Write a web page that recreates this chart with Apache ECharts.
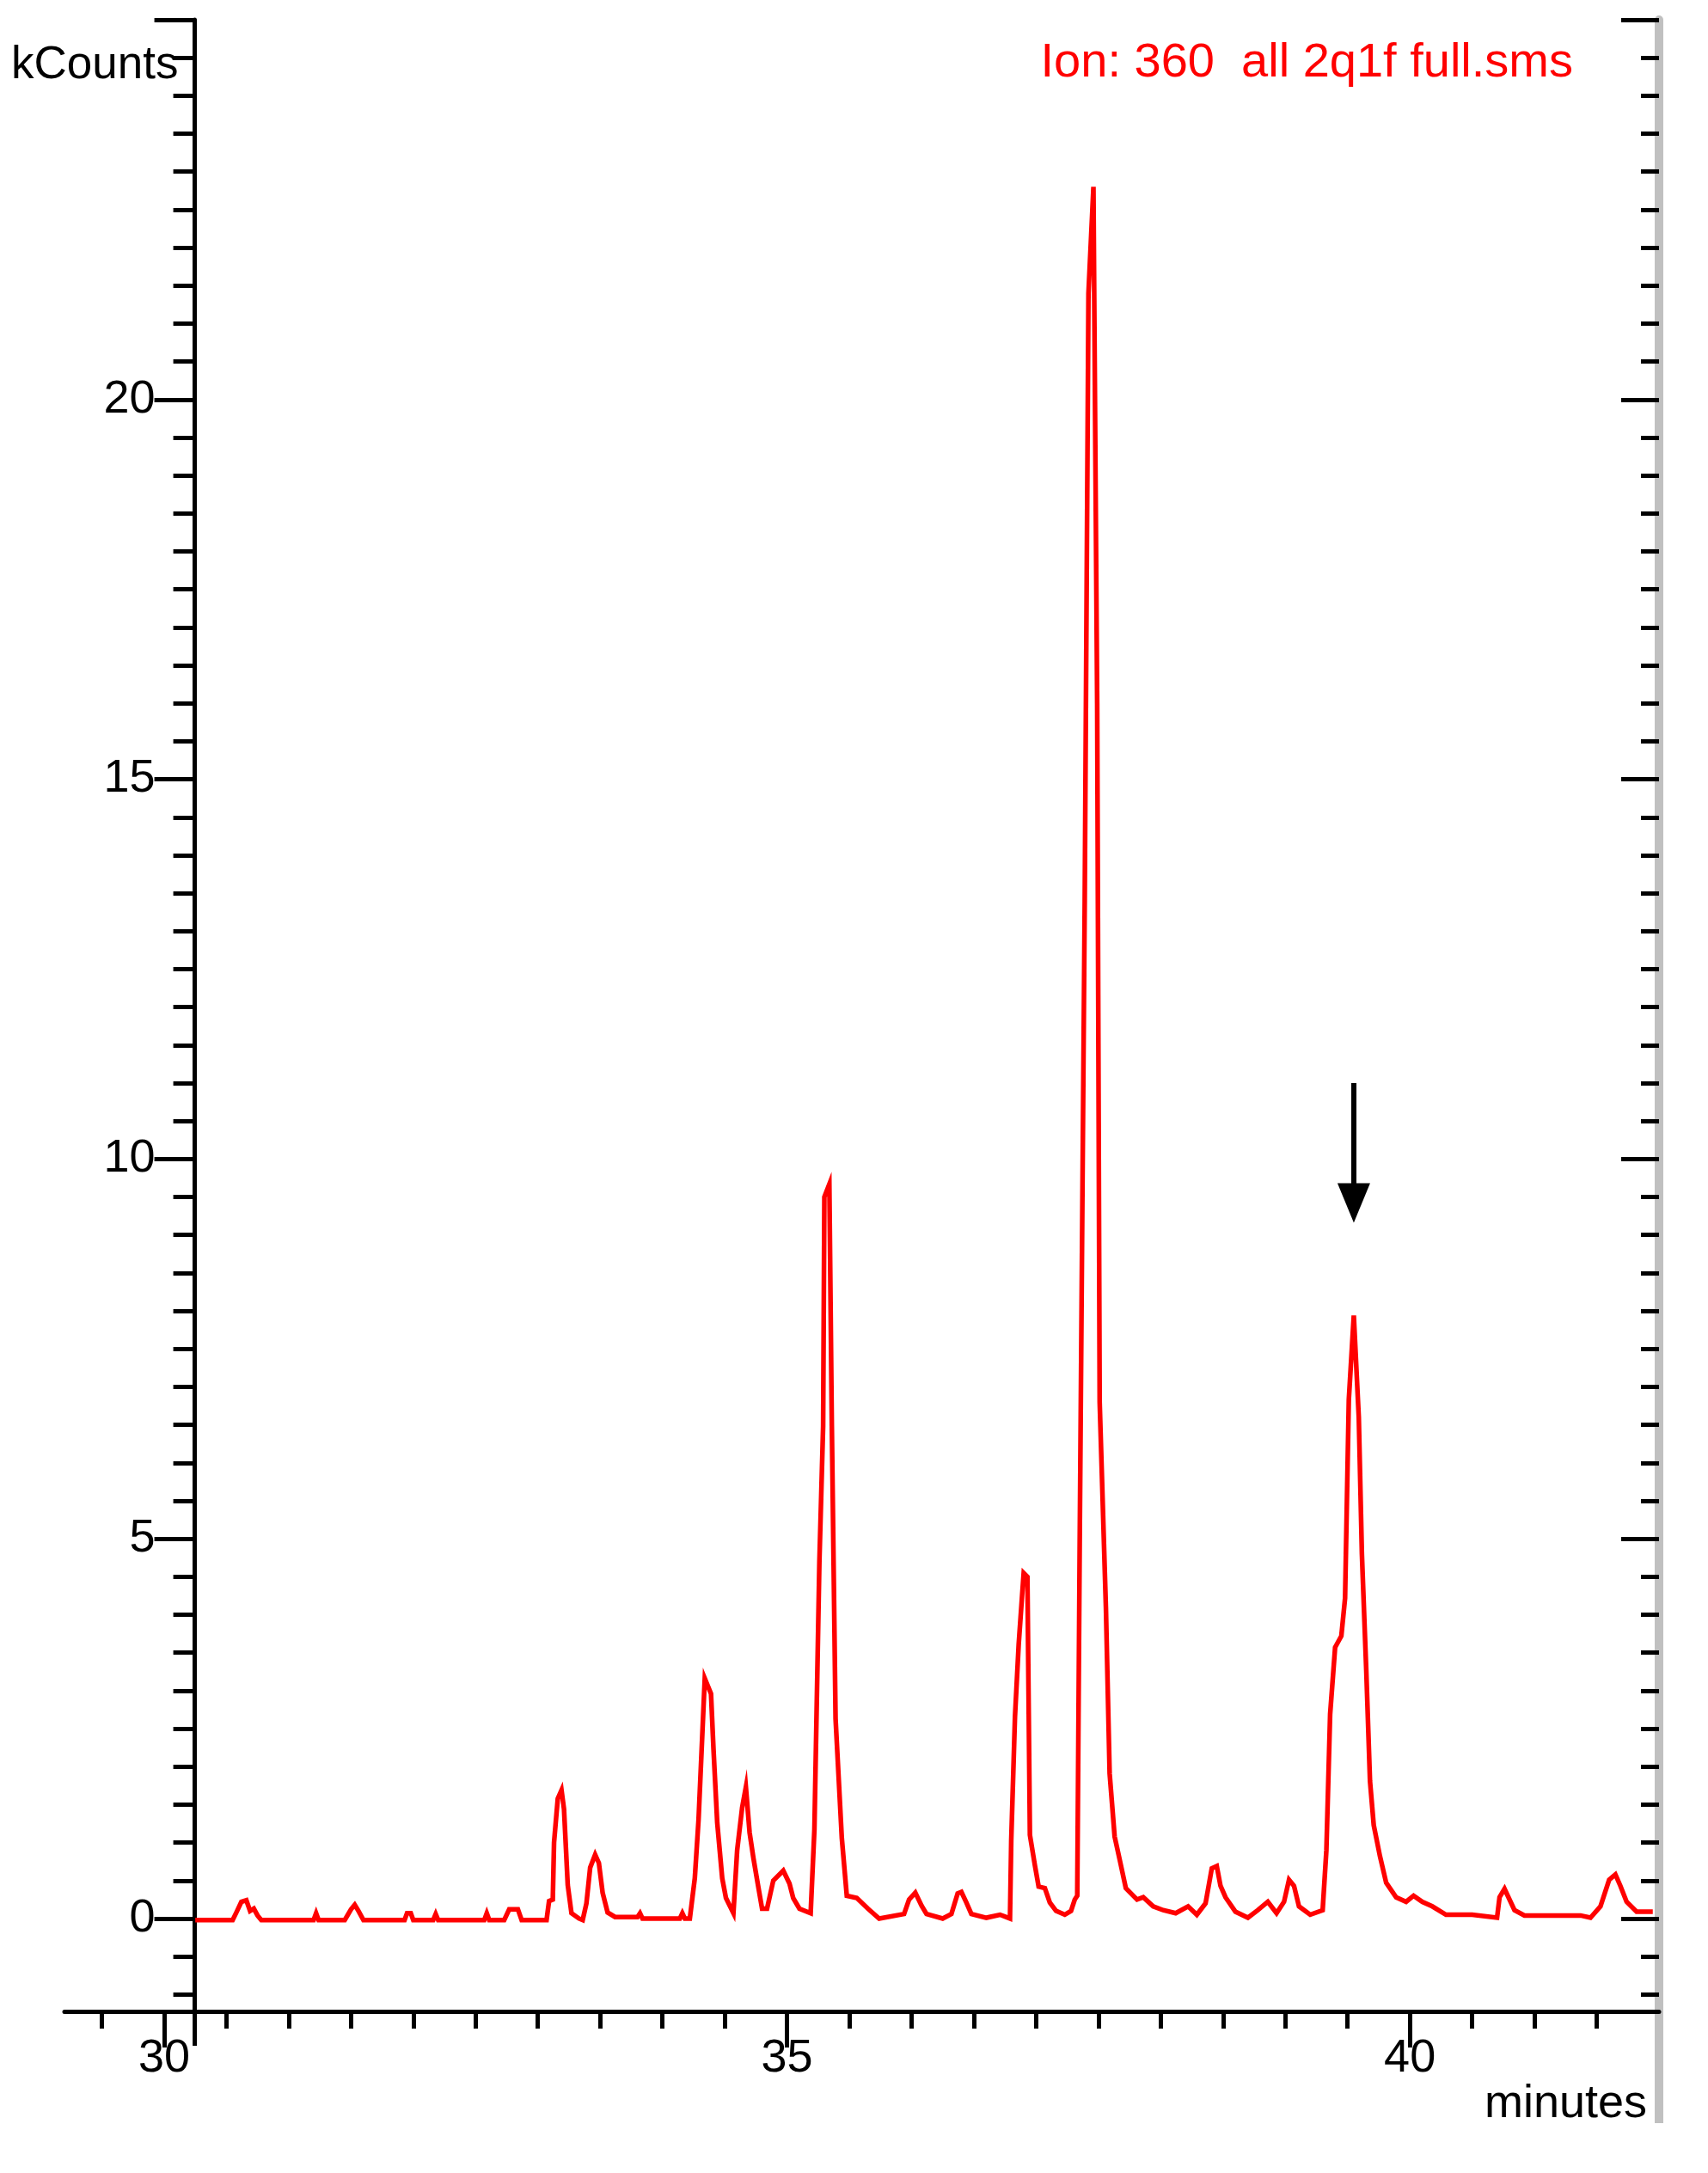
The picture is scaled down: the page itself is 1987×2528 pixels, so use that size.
<!DOCTYPE html>
<html><head><meta charset="utf-8">
<script src="https://cdn.jsdelivr.net/npm/echarts@6/dist/echarts.min.js"></script>
<style>html,body{margin:0;padding:0;background:#fff}#c{width:1987px;height:2528px}</style>
</head><body><div id="c"></div>
<script>
// Retention time (minutes) and intensity (kCounts)
const timeMin = [
30.25,30.55,30.58,30.62,30.66,30.69,30.72,30.75,30.78,31.20,31.22,31.24,31.45,31.50,31.53,31.56,31.60,
31.93,31.95,31.98,32.00,32.16,32.18,32.20,32.57,32.59,32.61,32.73,32.77,32.84,32.87,
33.07,33.09,33.12,33.13,33.16,33.19,33.21,33.24,33.27,33.33,33.36,33.39,33.42,33.46,33.49,33.52,33.56,33.62,
33.80,33.82,33.84,34.14,34.16,34.18,34.22,34.26,34.29,34.34,34.39,34.41,34.44,34.48,34.51,34.57,
34.60,34.64,34.67,34.70,34.73,34.765,34.80,34.84,34.89,34.97,35.02,35.05,35.10,35.19,
35.22,35.26,35.29,35.30,35.34,35.36,35.39,35.44,35.48,35.56,35.65,35.74,35.94,35.98,36.03,36.08,36.12,
36.25,36.32,36.37,36.40,36.44,36.48,36.60,36.71,36.79,36.80,36.83,36.86,36.90,36.93,36.95,36.99,37.02,
37.07,37.11,37.16,37.23,37.28,37.31,37.33,37.35,37.39,37.42,37.46,37.49,37.51,37.56,37.59,37.63,37.67,
37.72,37.81,37.86,37.94,38.02,38.12,38.22,38.29,38.36,38.41,38.45,38.48,38.52,38.60,38.70,38.78,38.86,
38.93,38.99,39.03,39.07,39.11,39.20,39.30,39.33,39.36,39.40,39.45,39.48,39.51,39.55,39.59,39.615,39.65,
39.68,39.71,39.76,39.81,39.89,39.97,40.03,40.10,40.18,40.29,40.50,40.70,40.72,40.76,40.84,40.92,
41.37,41.45,41.53,41.60,41.65,41.69,41.74,41.82,41.95
];
const kCounts = [
-0.02,-0.02,0.08,0.22,0.24,0.10,0.13,0.04,-0.02,-0.02,0.07,-0.02,-0.02,0.12,0.18,0.10,-0.02,
-0.02,0.07,0.07,-0.02,-0.02,0.06,-0.02,-0.02,0.07,-0.02,-0.02,0.12,0.12,-0.02,
-0.02,0.23,0.25,1.00,1.58,1.69,1.44,0.44,0.07,0.00,-0.02,0.20,0.67,0.84,0.73,0.34,0.08,0.02,
0.02,0.07,0.00,0.00,0.07,0.00,0.00,0.53,1.30,3.16,2.96,2.23,1.26,0.53,0.27,0.07,
0.90,1.46,1.73,1.13,0.80,0.46,0.13,0.13,0.50,0.63,0.46,0.27,0.13,0.07,
1.17,4.69,6.48,9.50,9.67,6.48,2.63,1.06,0.30,0.27,0.13,0.00,0.06,0.25,0.34,0.17,0.06,
0.00,0.06,0.33,0.35,0.21,0.06,0.01,0.05,0.00,1.02,2.65,3.61,4.55,4.50,1.10,0.70,0.42,
0.40,0.21,0.10,0.05,0.10,0.25,0.30,5.00,13.39,21.40,22.80,16.00,6.80,4.10,1.91,1.08,0.78,
0.40,0.25,0.28,0.16,0.11,0.07,0.16,0.05,0.20,0.66,0.69,0.43,0.28,0.09,0.01,0.11,0.22,
0.07,0.22,0.51,0.43,0.16,0.05,0.11,0.90,2.69,3.57,3.72,4.22,6.83,7.94,6.60,4.80,3.27,
1.81,1.23,0.82,0.47,0.28,0.22,0.30,0.22,0.16,0.05,0.05,0.01,0.28,0.39,0.11,0.04,
0.04,0.01,0.16,0.51,0.58,0.43,0.22,0.09,0.09
];
const xMajorTicks = [30, 35, 40];
const xMinorTicks = [29.5,30.5,31,31.5,32,32.5,33,33.5,34,34.5,35.5,36,36.5,37,37.5,38,38.5,39,39.5,40.5,41,41.5];
const yMajorTicks = [0, 5, 10, 15, 20, 25];
const yLabelTicks = [0, 5, 10, 15, 20];
const yMinorTicks = [-1,-0.5,0.5,1,1.5,2,2.5,3,3.5,4,4.5,5.5,6,6.5,7,7.5,8,8.5,9,9.5,10.5,11,11.5,12,12.5,13,13.5,14,14.5,
  15.5,16,16.5,17,17.5,18,18.5,19,19.5,20.5,21,21.5,22,22.5,23,23.5,24,24.5];
const arrowTime = 39.55, arrowFrom = 11.0, arrowTo = 9.42;
const yAxisTime = 30.246;       // where the intensity axis crosses the time axis
const xMin = 29.2, xMax = 42, yMin = -1.223, yMax = 25;
const titleText = 'Ion: 360  all 2q1f full.sms';

const W = 1987, H = 2528;
const G = {left: 75, right: 57, top: 23, bottom: 188};
const gridW = W - G.left - G.right;
const yOffset = -((yAxisTime - xMin) / (xMax - xMin)) * gridW;
const FONT = '"Liberation Sans", Arial, sans-serif';
const BLK = '#000';

const chart = echarts.init(document.getElementById('c'), null, {renderer: 'canvas'});
const points = timeMin.map((t, i) => [t, kCounts[i]]);

function xAx(ticks, len, labels) {
  return {
    type: 'value', min: xMin, max: xMax, position: 'bottom', gridIndex: 0,
    axisLine: {show: !!labels, onZero: false, lineStyle: {color: BLK, width: 5}},
    axisTick: {show: true, inside: false, length: len, customValues: ticks, lineStyle: {color: BLK, width: 5}},
    axisLabel: labels ? {show: true, customValues: labels, fontSize: 54, fontFamily: FONT, color: BLK, margin: 28} : {show: false},
    splitLine: {show: false}, minorTick: {show: false}
  };
}
function yAx(pos, ticks, len, inside, line, labels, offset) {
  return {
    type: 'value', min: yMin, max: yMax, position: pos, offset: offset, gridIndex: 0,
    axisLine: line ? {show: true, onZero: false, lineStyle: line} : {show: false, onZero: false},
    axisTick: {show: true, inside: inside, length: len, customValues: ticks, lineStyle: {color: BLK, width: 5}},
    axisLabel: labels ? {show: true, customValues: labels, fontSize: 54, fontFamily: FONT, color: BLK, margin: 46} : {show: false},
    splitLine: {show: false}, minorTick: {show: false}
  };
}

chart.setOption({
  animation: false,
  backgroundColor: '#fff',
  grid: {left: G.left, right: G.right, top: G.top, bottom: G.bottom, containLabel: false, outerBoundsMode: 'none'},
  xAxis: [
    xAx(xMajorTicks, 42, xMajorTicks),
    xAx(xMinorTicks, 20, null)
  ],
  yAxis: [
    yAx('left', yMajorTicks, 47, false, {color: BLK, width: 5}, yLabelTicks, yOffset),
    yAx('left', yMinorTicks, 25, false, null, null, yOffset),
    yAx('right', yMajorTicks, 44, true, {color: '#c0c0c0', width: 10}, null, 0),
    yAx('right', yMinorTicks, 21, true, null, null, 0)
  ],
  series: [{
    type: 'line', xAxisIndex: 0, yAxisIndex: 0, data: points,
    showSymbol: false, symbol: 'none', silent: true,
    lineStyle: {color: '#ff0000', width: 5.5, join: 'miter'},
    markLine: {
      silent: true, symbol: ['none', 'triangle'], symbolSize: [38, 46],
      label: {show: false},
      lineStyle: {color: BLK, width: 6, type: 'solid'},
      emphasis: {disabled: true},
      data: [[{coord: [arrowTime, arrowFrom]}, {coord: [arrowTime, arrowTo]}]]
    }
  }]
});

const axisX = chart.convertToPixel({xAxisIndex: 0}, yAxisTime);
const rightX = chart.convertToPixel({xAxisIndex: 0}, xMax);
const baseY = chart.convertToPixel({yAxisIndex: 0}, yMin);
chart.setOption({
  graphic: [
    {type: 'line', shape: {x1: axisX, y1: baseY, x2: axisX, y2: baseY + 40}, style: {stroke: BLK, lineWidth: 5}},
    {type: 'line', shape: {x1: rightX, y1: baseY, x2: rightX, y2: baseY + 130}, style: {stroke: '#c0c0c0', lineWidth: 10}},
    {type: 'text', left: 13, top: 50, style: {text: 'kCounts', fontSize: 53, fontFamily: FONT, fill: BLK}},
    {type: 'text', right: 157, top: 46, style: {text: titleText, fontSize: 56, fontFamily: FONT, fill: '#ff0000'}},
    {type: 'text', right: 71, top: 2421, style: {text: 'minutes', fontSize: 54, fontFamily: FONT, fill: BLK}}
  ]
});
</script></body></html>
